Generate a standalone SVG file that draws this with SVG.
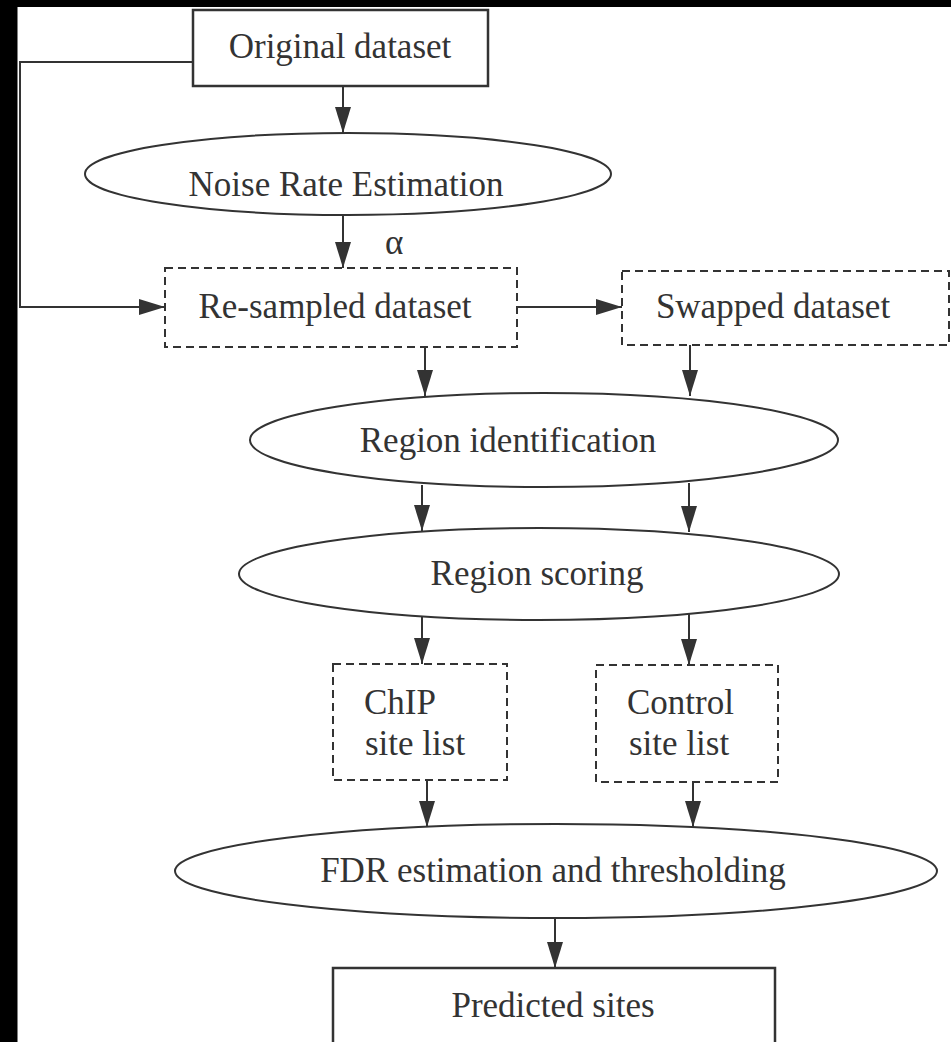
<svg xmlns="http://www.w3.org/2000/svg" width="951" height="1042" viewBox="0 0 951 1042">
<style>
  .bg { fill: #ffffff; }
  .frame { fill: #000000; }
  .solid { fill: #ffffff; stroke: #333333; stroke-width: 2.5; }
  .dash { fill: #ffffff; stroke: #333333; stroke-width: 2; stroke-dasharray: 8 5; }
  .ell { fill: #ffffff; stroke: #333333; stroke-width: 2; }
  .conn { fill: none; stroke: #333333; stroke-width: 2; }
  text { font-family: "Liberation Serif", "Times New Roman", serif; font-size: 35px; fill: #333333; }
  .c { text-anchor: middle; }
</style>
<defs>
  <marker id="arrow" markerUnits="userSpaceOnUse" markerWidth="26" markerHeight="18" refX="26" refY="8" orient="auto">
    <path d="M0,0 L26,8 L0,16 z" fill="#333333"/>
  </marker>
</defs>
<rect class="bg" x="0" y="0" width="951" height="1042"/>
<rect class="frame" x="0" y="0" width="17.5" height="1042"/>
<rect class="frame" x="0" y="0" width="951" height="7"/>

<g id="connectors">
  <polyline class="conn" points="193,62 20,62 20,307 165,307" marker-end="url(#arrow)"/>
  <line class="conn" x1="343" y1="86" x2="343" y2="133" marker-end="url(#arrow)"/>
  <line class="conn" x1="343" y1="215" x2="343" y2="268" marker-end="url(#arrow)"/>
  <line class="conn" x1="517" y1="307" x2="622" y2="307" marker-end="url(#arrow)"/>
  <line class="conn" x1="425" y1="347" x2="425" y2="396" marker-end="url(#arrow)"/>
  <line class="conn" x1="690" y1="345" x2="690" y2="396" marker-end="url(#arrow)"/>
  <line class="conn" x1="422" y1="485" x2="422" y2="531" marker-end="url(#arrow)"/>
  <line class="conn" x1="689" y1="483" x2="689" y2="532" marker-end="url(#arrow)"/>
  <line class="conn" x1="422" y1="616" x2="422" y2="664" marker-end="url(#arrow)"/>
  <line class="conn" x1="689" y1="614" x2="689" y2="665" marker-end="url(#arrow)"/>
  <line class="conn" x1="427" y1="780" x2="427" y2="827" marker-end="url(#arrow)"/>
  <line class="conn" x1="693" y1="782" x2="693" y2="827" marker-end="url(#arrow)"/>
  <line class="conn" x1="555" y1="918" x2="555" y2="968" marker-end="url(#arrow)"/>
  <text x="385" y="254">α</text>
</g>

<g id="original">
  <rect class="solid" x="193" y="10" width="295" height="76"/>
  <text class="c" x="340" y="58">Original dataset</text>
</g>
<g id="noise">
  <ellipse class="ell" cx="348" cy="174" rx="263" ry="41" stroke-width="2.5"/>
  <text class="c" x="346" y="196">Noise Rate Estimation</text>
</g>
<g id="resampled">
  <rect class="dash" x="165" y="268" width="352" height="79"/>
  <text class="c" x="335" y="318">Re-sampled dataset</text>
</g>
<g id="swapped">
  <rect class="dash" x="622" y="271" width="327" height="74"/>
  <text class="c" x="773" y="318">Swapped dataset</text>
</g>
<g id="region-id">
  <ellipse class="ell" cx="544" cy="440" rx="294" ry="47"/>
  <text class="c" x="508" y="452">Region identification</text>
</g>
<g id="region-scoring">
  <ellipse class="ell" cx="539" cy="574" rx="300" ry="46"/>
  <text class="c" x="537" y="585">Region scoring</text>
</g>
<g id="chip">
  <rect class="dash" x="333" y="664" width="174" height="116"/>
  <text x="364" y="714">ChIP</text>
  <text x="365" y="755">site list</text>
</g>
<g id="control">
  <rect class="dash" x="596" y="665" width="182" height="117"/>
  <text x="627" y="714">Control</text>
  <text x="629" y="755">site list</text>
</g>
<g id="fdr">
  <ellipse class="ell" cx="556" cy="871" rx="381" ry="47"/>
  <text class="c" x="553" y="882">FDR estimation and thresholding</text>
</g>
<g id="predicted">
  <rect class="solid" x="333" y="968" width="442" height="100" stroke-width="2"/>
  <text class="c" x="553" y="1017">Predicted sites</text>
</g>
</svg>
